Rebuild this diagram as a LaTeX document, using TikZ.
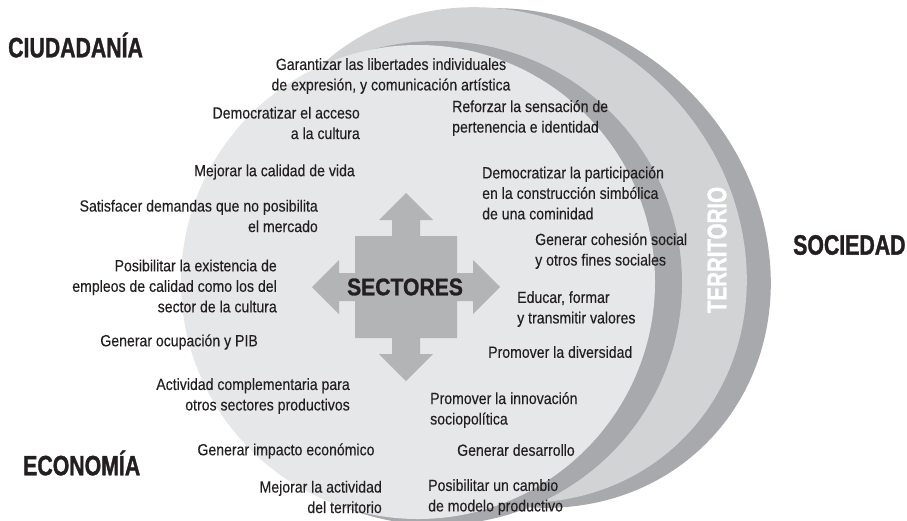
\documentclass[tikz,border=0pt]{standalone}
\usepackage{fontspec}
\setmainfont{Liberation Sans}[FakeStretch=0.87,FakeBold=0.2]
\newfontfamily\headfont{Liberation Sans Bold}[FakeStretch=0.76,FakeBold=1.2]
\newfontfamily\sectfont{Liberation Sans Bold}[FakeStretch=0.88,FakeBold=1.2]
\definecolor{bandgray}{HTML}{A7A9AC}
\definecolor{midgray}{HTML}{D1D3D4}
\definecolor{discgray}{HTML}{E6E7E8}
\definecolor{crossgray}{HTML}{B3B4B6}
\definecolor{ink}{HTML}{231F20}
\tikzset{
  txt/.style={inner sep=0pt, text=ink, font=\fontsize{16.2}{20.5}\selectfont},
  lft/.style={txt, anchor=east, align=right},
  rgt/.style={txt, anchor=west, align=left},
  ctr/.style={txt, align=center},
  head/.style={inner sep=0pt, text=ink, font=\headfont\fontsize{28}{30}\selectfont},
}
\begin{document}
\begin{tikzpicture}[x=1pt,y=-1pt]
\useasboundingbox (0,0) rectangle (907,520);
\begin{scope}
  \clip (0,0) rectangle (907,520);
  \fill[bandgray, rotate around={-45:(521,258)}] (521,258) ellipse[x radius=262, y radius=237];
  \fill[midgray, rotate around={-45:(499,255)}] (499,255) ellipse[x radius=260, y radius=235];
  \fill[bandgray] (437,283) ellipse[x radius=245, y radius=242];
  \fill[discgray] (418,282) circle[radius=237];
\end{scope}
% cross of arrows
\fill[crossgray, shift={(406,287)}]
  (0,-94) -- (27,-67) -- (14,-67) -- (14,-51) -- (51,-51) -- (51,-14) -- (67,-14) -- (67,-27)
  -- (94,0) -- (67,27) -- (67,14) -- (51,14) -- (51,51) -- (14,51) -- (14,67) -- (27,67)
  -- (0,94) -- (-27,67) -- (-14,67) -- (-14,51) -- (-51,51) -- (-51,14) -- (-67,14) -- (-67,27)
  -- (-94,0) -- (-67,-27) -- (-67,-14) -- (-51,-14) -- (-51,-51) -- (-14,-51) -- (-14,-67) -- (-27,-67) -- cycle;
\node[head, font=\sectfont\fontsize{24}{28}\selectfont] (sect) at (405,287) {SECTORES};
\node[head, text=white, rotate=90, font=\headfont\fontsize{27}{28}\selectfont] (terr) at (717,250) {TERRITORIO};
% headings
\node[head, anchor=west] (ciud) at (8,45) {CIUDADANÍA};
\node[head, anchor=west] (econ) at (23,463) {ECONOMÍA};
\node[head, anchor=west] (soci) at (793,245) {SOCIEDAD};
% left column
\node[ctr] (t1) at (391,76) {Garantizar las libertades individuales\\de expresión, y comunicación artística};
\node[lft] (t2) at (360,123) {Democratizar el acceso\\a la cultura};
\node[lft] (t3) at (355,172) {Mejorar la calidad de vida};
\node[lft] (t4) at (318,216) {Satisfacer demandas que no posibilita\\el mercado};
\node[lft] (t5) at (277,286) {Posibilitar la existencia de\\empleos de calidad como los del\\sector de la cultura};
\node[lft] (t6) at (258,342) {Generar ocupación y PIB};
\node[lft] (t7) at (350,396) {Actividad complementaria para\\otros sectores productivos};
\node[ctr] (t8) at (286,451) {Generar impacto económico};
\node[lft] (t9) at (382,497) {Mejorar la actividad\\del territorio};
% right column
\node[rgt] (r1) at (452,118) {Reforzar la sensación de\\pertenencia e identidad};
\node[rgt] (r2) at (482,193) {Democratizar la participación\\en la construcción simbólica\\de una cominidad};
\node[rgt] (r3) at (535,251) {Generar cohesión social\\y otros fines sociales};
\node[rgt] (r4) at (517,309) {Educar, formar\\y transmitir valores};
\node[rgt] (r5) at (488,352) {Promover la diversidad};
\node[rgt] (r6) at (430,410) {Promover la innovación\\sociopolítica};
\node[rgt] (r7) at (457,450) {Generar desarrollo};
\node[rgt] (r8) at (428,497) {Posibilitar un cambio\\de modelo productivo};
\end{tikzpicture}
\end{document}
